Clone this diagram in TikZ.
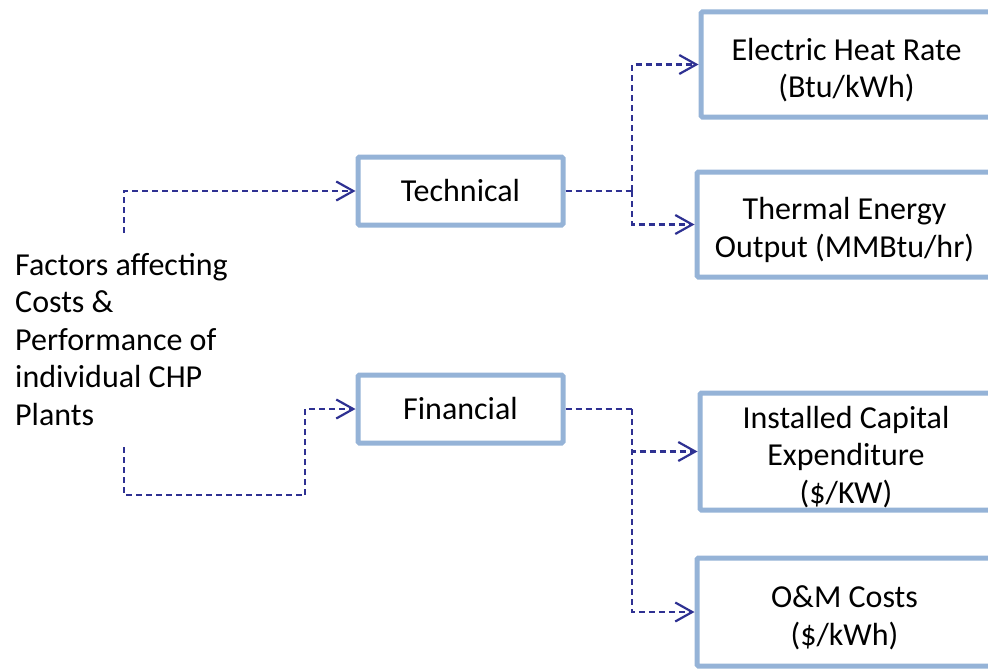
\documentclass[tikz,border=0pt]{standalone}
\usepackage{fontspec}
\setmainfont{Carlito}
\usetikzlibrary{arrows.meta}
\definecolor{boxblue}{RGB}{149,179,215}
\definecolor{linkblue}{RGB}{46,49,146}
\newcommand{\topgap}{\rule{0pt}{33pt}}
\begin{document}
\begin{tikzpicture}[x=1pt,y=-1pt,
  txt/.style={font=\fontsize{32}{37.5}\selectfont},
  box/.style={txt, draw=boxblue, line width=5pt, rounded corners=1.5pt, fill=white, align=center, inner sep=0pt},
  link/.style={draw=linkblue, line width=2.2pt, dash pattern=on 6pt off 4pt},
  conn/.style={link, -{Straight Barb[length=17pt,width=19pt]}}]
\useasboundingbox (0,0) rectangle (988,669);
\clip (0,0) rectangle (988,669);
% left text
\node[txt, anchor=base west, align=left, inner sep=0pt] (factors) at (15,425)
  {Factors affecting\\Costs \&\\Performance of\\individual CHP\\Plants};
% middle boxes
\node[box, minimum width=205pt, minimum height=68pt] (tech) at (460.5,191) {Technical};
\node[box, minimum width=205pt, minimum height=68pt] (fin) at (460.5,409) {Financial};
% right boxes
\node[box, minimum width=291pt, minimum height=105pt] (elec) at (846.5,64.5) {\topgap Electric Heat Rate\\(Btu/kWh)};
\node[box, minimum width=295pt, minimum height=105pt] (therm) at (844.5,224.5) {\topgap Thermal Energy\\Output (MMBtu/hr)};
\node[box, minimum width=292pt, minimum height=117pt] (inst) at (846,451.5) {\topgap Installed Capital\\Expenditure\\(\$/KW)};
\node[box, minimum width=295pt, minimum height=108pt] (om) at (844.5,612) {\topgap O\&M Costs\\(\$/kWh)};
% coordinates
\coordinate (ftop) at (124,233);
\coordinate (fbot) at (124,447);
\coordinate (fturn) at (305,495);
\coordinate (tj) at (632,191);
\coordinate (fj) at (632,409);
% connectors
\draw[conn] (ftop) |- (tech.west);
\draw[link] (fbot) |- (fturn);
\draw[conn] (fturn) |- (fin.west);
\draw[link] (tech.east) -- (tj);
\draw[conn] (tj) |- (elec.west);
\draw[conn] (tj) |- (therm.west);
\draw[link] (fin.east) -- (fj);
\draw[conn] (fj) |- (inst.west);
\draw[conn] (fj) |- (om.west);
\end{tikzpicture}
\end{document}
